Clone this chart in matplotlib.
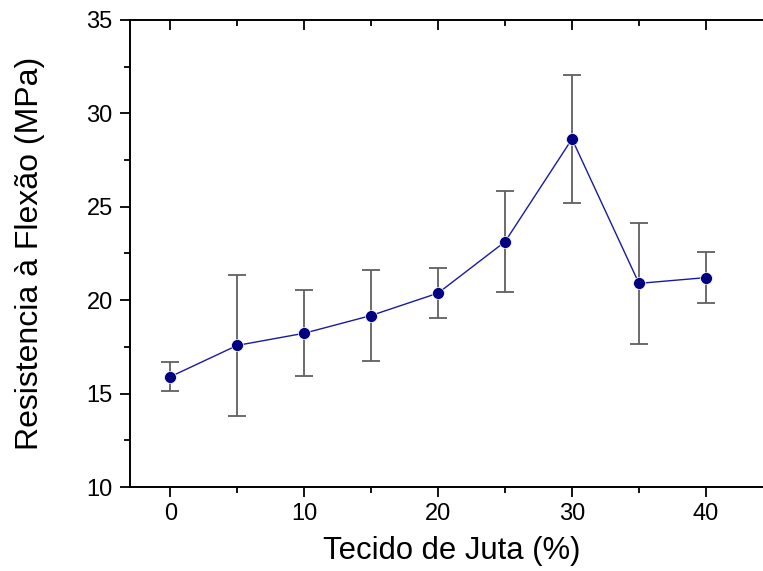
import matplotlib
matplotlib.use("Agg")
import matplotlib.pyplot as plt
from matplotlib.ticker import MultipleLocator

plt.rcParams['font.family'] = ['Liberation Sans', 'DejaVu Sans']

juta = [0, 5, 10, 15, 20, 25, 30, 35, 40]
resistencia = [15.9, 17.58, 18.23, 19.18, 20.38, 23.13, 28.63, 20.9, 21.21]
erro = [0.77, 3.76, 2.3, 2.45, 1.32, 2.7, 3.42, 3.23, 1.37]

fig = plt.figure(figsize=(7.63, 5.71), dpi=100)
ax = fig.add_axes([0.1704, 0.1471, 0.8426, 0.8179])

eb = ax.errorbar(juta, resistencia, yerr=erro, fmt='none', ecolor='#606060',
                 elinewidth=1.3, capsize=6.8, capthick=1.3, zorder=2)
for cap in eb[1]:
    cap.set_color('#111111')
ax.plot(juta, resistencia, '-', color='#1a1aa0', lw=1.0, zorder=3)
ax.plot(juta, resistencia, 'o', color='#000080', ms=8.6, mec='white', mew=0.5, zorder=4)

ax.set_xlim(-3, 45)
ax.set_ylim(10, 35)
ax.xaxis.set_major_locator(MultipleLocator(10))
ax.xaxis.set_minor_locator(MultipleLocator(5))
ax.yaxis.set_major_locator(MultipleLocator(5))
ax.yaxis.set_minor_locator(MultipleLocator(2.5))

for s in ax.spines.values():
    s.set_linewidth(1.4)

ax.tick_params(axis='both', which='major', direction='out', length=7.5, width=1.3,
               labelsize=17)
ax.tick_params(axis='both', which='minor', direction='out', length=4, width=1.3)
ax.tick_params(axis='x', which='both', top=True, pad=3.7)
ax.tick_params(axis='y', which='both', right=True, pad=5)
# top/right ticks point inward
for t in ax.xaxis.get_major_ticks() + ax.xaxis.get_minor_ticks():
    t.tick2line.set_marker(3)  # TICKDOWN
for t in ax.yaxis.get_major_ticks() + ax.yaxis.get_minor_ticks():
    t.tick2line.set_marker(0)  # TICKLEFT

ax.set_xlabel('Tecido de Juta (%)', fontsize=22.3, labelpad=8)
ax.set_ylabel('Resistencia à Flexão (MPa)', fontsize=23, labelpad=30)

fig.savefig('out.png', dpi=100)
